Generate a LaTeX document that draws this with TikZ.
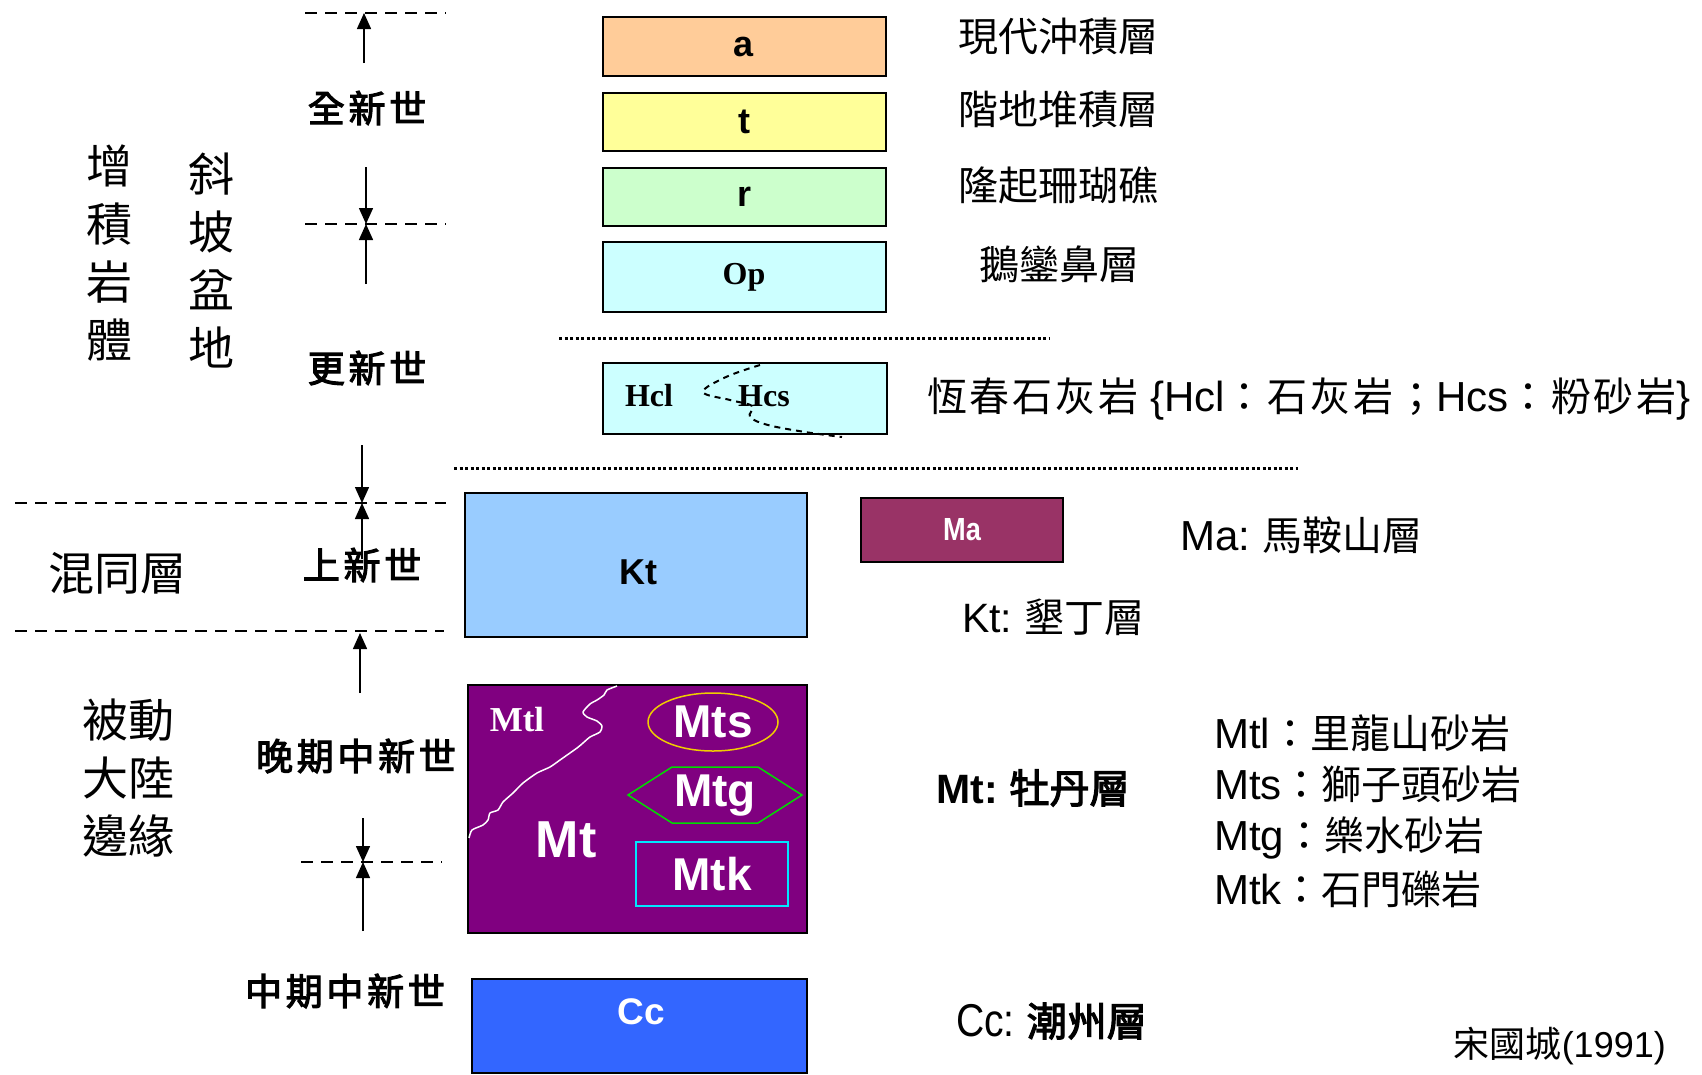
\documentclass[tikz,border=0pt]{standalone}
\usepackage{fontspec}
\setmainfont{Liberation Serif}
\setsansfont{Liberation Sans}
\newfontfamily\cjk{Noto Sans CJK TC}
\newfontfamily\cjkwide[LetterSpace=7]{Noto Sans CJK TC}
\newfontfamily\cjkbf[FakeBold=3]{Noto Sans CJK TC}
\newfontfamily\cjkera[FakeBold=3,LetterSpace=10]{Noto Sans CJK TC}
\newfontfamily\narrow[FakeStretch=0.85]{Liberation Sans}
\usetikzlibrary{arrows.meta,shapes.geometric}
\definecolor{cA}{RGB}{255,204,153}
\definecolor{cT}{RGB}{255,255,153}
\definecolor{cR}{RGB}{204,255,204}
\definecolor{cOp}{RGB}{204,255,255}
\definecolor{cKt}{RGB}{153,204,255}
\definecolor{cMa}{RGB}{153,51,102}
\definecolor{cMt}{RGB}{128,0,128}
\definecolor{cCc}{RGB}{51,102,255}
\definecolor{cMts}{RGB}{240,205,0}
\definecolor{cMtg}{RGB}{0,220,0}
\definecolor{cMtk}{RGB}{0,230,255}
\begin{document}
\begin{tikzpicture}[x=1pt,y=-1pt,
  layer/.style={draw=black,line width=2pt,inner sep=0pt},
  era/.style={font=\cjkera\fontsize{37}{37}\selectfont},
  setting/.style={font=\cjk\fontsize{46}{58}\selectfont,align=center},
  note/.style={anchor=west,inner sep=0pt,font=\cjk\fontsize{40}{40}\selectfont},
  epochline/.style={dash pattern=on 12pt off 8pt,line width=1.5pt},
  dotrule/.style={dash pattern=on 3pt off 2.5pt,line width=3pt},
  arr/.style={line width=1.5pt,-{Triangle[length=16pt,width=14pt]}},
  tag/.style={font=\sffamily\bfseries\fontsize{36}{36}\selectfont},
  rtag/.style={font=\rmfamily\bfseries\fontsize{32}{32}\selectfont},
  wtag/.style={text=white,font=\sffamily\bfseries\fontsize{46}{46}\selectfont}]
  \useasboundingbox (0,0) rectangle (1702,1074);
  % epoch boundaries
  \draw[epochline] (305,13) -- (446,13);
  \draw[epochline] (305,224) -- (446,224);
  \draw[epochline] (15,503) -- (446,503);
  \draw[epochline] (15,631) -- (444,631);
  \draw[epochline] (301,862) -- (442,862);
  \coordinate (B1) at (364,13);
  \coordinate (B2) at (366,224);
  \coordinate (B3) at (362,503);
  \coordinate (B4) at (360,633);
  \coordinate (B5) at (363,862);
  \coordinate (s1) at (364,63);
  \coordinate (s2) at (366,167);
  \coordinate (s3) at (366,284);
  \coordinate (s4) at (362,445);
  \coordinate (s5) at (362,559);
  \coordinate (s6) at (360,693);
  \coordinate (s7) at (363,818);
  \coordinate (s8) at (363,931);
  \draw[arr] (s1) -- (B1);
  \draw[arr] (s2) -- (B2);
  \draw[arr] (s3) -- (B2);
  \draw[arr] (s4) -- (B3);
  \draw[arr] (s5) -- (B3);
  \draw[arr] (s6) -- (B4);
  \draw[arr] (s7) -- (B5);
  \draw[arr] (s8) -- (B5);
  % epochs
  \node[era] (Ho) at (367,108) {全新世};
  \node[era] (Pl) at (367,368) {更新世};
  \node[era] (Pi) at (362,565) {上新世};
  \node[era] (LM) at (356,756) {晚期中新世};
  \node[era] (MM) at (345,991) {中期中新世};
  % settings
  \node[setting] (acc) at (109,253) {增\\積\\岩\\體};
  \node[setting] (slope) at (211,261) {斜\\坡\\盆\\地};
  \node[setting] (mel) at (117,573) {混同層};
  \node[setting] (pcm) at (128,778) {被動\\大陸\\邊緣};
  % dotted breaks
  \draw[dotrule] (559,338) -- (1050,338);
  \draw[dotrule] (454,468) -- (1298,468);
  % units
  \node[layer,fill=cA,minimum width=283pt,minimum height=59pt,tag] (a) at (744,46.5) {a};
  \node[layer,fill=cT,minimum width=283pt,minimum height=58pt,tag] (t) at (744,122) {t};
  \node[layer,fill=cR,minimum width=283pt,minimum height=58pt,tag] (r) at (744,196.5) {r};
  \node[layer,fill=cOp,minimum width=283pt,minimum height=70pt,rtag] (Op) at (744,277) {Op};
  \node[layer,fill=cOp,minimum width=284pt,minimum height=71pt] (HC) at (745,398.5) {};
  \node[rtag] (Hcl) at (649,396) {Hcl};
  \node[rtag] (Hcs) at (764,396) {Hcs};
  \draw[dash pattern=on 6pt off 5pt,line width=2pt] plot[smooth,tension=0.6] coordinates
    {(760,365) (726,377) (703,392) (730,400) (752,406) (750,417) (768,425) (805,432) (842,437)};
  \node[layer,fill=cKt,minimum width=342pt,minimum height=144pt] (Kt) at (636,565) {};
  \node[font=\sffamily\bfseries\fontsize{36}{36}\selectfont] (KtT) at (638,572) {Kt};
  \node[layer,fill=cMa,minimum width=202pt,minimum height=64pt,text=white,font=\narrow\bfseries\fontsize{32}{32}\selectfont] (Ma) at (962,530) {Ma};
  \node[layer,fill=cMt,minimum width=339pt,minimum height=248pt] (Mt) at (637.5,809) {};
  \draw[white,line width=1.5pt,line join=round] plot[smooth,tension=0.4] coordinates
    {(617,686) (607,690) (604,695) (597,700) (590,704) (583,712) (587,717) (597,721) (602,726)
     (600,732) (590,737) (583,743) (577,748) (560,760) (550,767) (537,773) (523,783)
     (513,793) (503,802) (498,810) (490,813) (488,820) (483,825) (472,830) (469,838)};
  \node[text=white,font=\rmfamily\bfseries\fontsize{35}{35}\selectfont] (Mtl) at (517,720) {Mtl};
  \node[text=white,font=\sffamily\bfseries\fontsize{52}{52}\selectfont] (MtT) at (566,840) {Mt};
  \node[ellipse,draw=cMts,line width=1.5pt,minimum width=130pt,minimum height=58pt,inner sep=0pt,wtag] (Mts) at (713,722) {Mts};
  \draw[cMtg,line width=1.5pt] (628,795) -- (672,767) -- (758,767) -- (802,795) -- (758,823) -- (672,823) -- cycle;
  \node[wtag] (Mtg) at (715,796) {Mtg};
  \node[draw=cMtk,line width=1.5pt,minimum width=152pt,minimum height=64pt,inner sep=0pt,wtag] (Mtk) at (712,874) {Mtk};
  \node[layer,fill=cCc,minimum width=335pt,minimum height=94pt] (Cc) at (639.5,1026) {};
  \node[text=white,font=\sffamily\bfseries\fontsize{37}{37}\selectfont] (CcT) at (641,1012) {Cc};
  % legend
  \node[note] (na) at (958,36) {現代沖積層};
  \node[note] (nt) at (958,109) {階地堆積層};
  \node[note] (nr) at (958,185) {隆起珊瑚礁};
  \node[note] (nOp) at (979,264) {鵝鑾鼻層};
  \node[note,font=\cjkwide\fontsize{40}{40}\selectfont] (nH) at (927,399)
    {恆春石灰岩 {\sffamily\fontsize{42}{42}\selectfont\{Hcl}：石灰岩；{\sffamily\fontsize{42}{42}\selectfont Hcs}：粉砂岩{\sffamily\fontsize{42}{42}\selectfont\}}};
  \node[note] (nMa) at (1180,535) {{\sffamily\fontsize{42}{42}\selectfont Ma:} 馬鞍山層};
  \node[note] (nKt) at (962,617) {{\sffamily\fontsize{41}{41}\selectfont Kt:} 墾丁層};
  \node[note,font=\cjkbf\fontsize{40}{40}\selectfont] (nMt) at (936,788) {{\sffamily\bfseries\fontsize{41}{41}\selectfont Mt:} 牡丹層};
  \node[note] (nMtl) at (1214,733) {{\sffamily\fontsize{42}{42}\selectfont Mtl}：里龍山砂岩};
  \node[note] (nMts) at (1214,784) {{\sffamily\fontsize{42}{42}\selectfont Mts}：獅子頭砂岩};
  \node[note] (nMtg) at (1214,838) {{\sffamily\fontsize{42}{42}\selectfont Mtg}：樂水砂岩};
  \node[note] (nMtk) at (1214,889) {{\sffamily\fontsize{42}{42}\selectfont Mtk}：石門礫岩};
  \node[note] (nCc) at (956,1021) {{\narrow\fontsize{46}{46}\selectfont Cc:} {\cjkbf 潮州層}};
  \node[anchor=east,inner sep=0pt,font=\cjk\fontsize{36}{36}\selectfont] (src) at (1666,1046) {宋國城{\sffamily(1991)}};
\end{tikzpicture}
\end{document}
